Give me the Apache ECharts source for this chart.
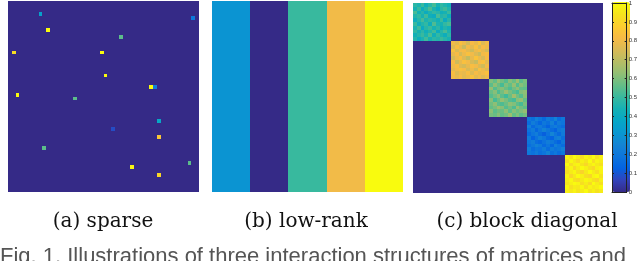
<!DOCTYPE html>
<html>
<head>
<meta charset="utf-8">
<script src="https://cdn.jsdelivr.net/npm/echarts@6/dist/echarts.min.js"></script>
<style>html,body{margin:0;padding:0;background:#fff;}#c{width:640px;height:261px;}</style>
</head>
<body>
<div id="c"></div>
<script>
// ---------- data ----------
var N = 50;
// sparse matrix: [row, col, value]
var sparseEntries = [
  [3, 8, 0.35], [4, 48, 0.2], [7, 10, 1.0], [9, 29, 0.55], [13, 1, 0.92],
  [13, 24, 1.0], [19, 25, 1.0], [24, 2, 1.0], [25, 17, 0.55], [22, 37, 1.0],
  [22, 38, 0.22], [31, 39, 0.38], [33, 27, 0.08], [35, 39, 0.85], [38, 9, 0.55],
  [42, 47, 0.55], [43, 32, 0.98], [45, 39, 0.9]
];
// low-rank: value of each 10-column stripe
var lowRankStripes = [0.3, 0.0, 0.5, 0.8, 1.0];
var stripeWidth = 10;
// block diagonal: five 10x10 blocks
var block1 = [
  [.48,.45,.50,.42,.47,.52,.44,.49,.46,.43],
  [.44,.50,.41,.47,.53,.45,.40,.48,.51,.46],
  [.52,.43,.47,.40,.45,.49,.47,.42,.44,.50],
  [.46,.49,.44,.51,.42,.40,.52,.46,.48,.41],
  [.41,.47,.52,.45,.48,.46,.43,.50,.40,.47],
  [.50,.42,.46,.49,.41,.53,.45,.44,.49,.52],
  [.45,.51,.40,.47,.50,.44,.48,.41,.46,.43],
  [.49,.44,.48,.42,.46,.51,.40,.47,.52,.45],
  [.43,.47,.50,.45,.52,.42,.49,.45,.41,.48],
  [.47,.41,.45,.51,.44,.48,.46,.50,.47,.44]
];
var block2 = [
  [.80,.77,.83,.79,.74,.81,.78,.84,.76,.80],
  [.76,.82,.78,.72,.80,.77,.83,.75,.81,.79],
  [.83,.75,.80,.81,.77,.73,.79,.82,.78,.74],
  [.78,.81,.74,.79,.83,.80,.76,.72,.80,.82],
  [.74,.79,.82,.76,.71,.78,.84,.79,.75,.81],
  [.81,.73,.78,.83,.80,.75,.72,.81,.83,.77],
  [.79,.82,.76,.74,.78,.82,.80,.76,.73,.80],
  [.77,.80,.83,.81,.75,.79,.74,.83,.79,.76],
  [.82,.76,.79,.78,.82,.76,.81,.78,.80,.83],
  [.80,.78,.81,.77,.79,.83,.77,.80,.76,.79]
];
var block3 = [
  [.60,.56,.63,.58,.54,.61,.57,.64,.55,.59],
  [.55,.62,.57,.52,.60,.56,.63,.54,.61,.58],
  [.63,.54,.59,.61,.57,.53,.58,.62,.56,.55],
  [.57,.61,.53,.58,.64,.59,.55,.52,.60,.62],
  [.54,.58,.62,.55,.51,.57,.65,.58,.54,.61],
  [.61,.52,.57,.63,.59,.54,.52,.61,.63,.56],
  [.58,.62,.55,.53,.57,.62,.60,.55,.52,.59],
  [.56,.59,.64,.61,.54,.58,.53,.63,.58,.55],
  [.62,.55,.58,.57,.62,.55,.61,.57,.60,.63],
  [.59,.57,.61,.56,.58,.64,.56,.60,.55,.58]
];
var block4 = [
  [.20,.17,.23,.19,.15,.21,.18,.24,.16,.20],
  [.16,.22,.18,.14,.20,.17,.23,.15,.21,.19],
  [.23,.15,.20,.21,.17,.13,.19,.22,.18,.16],
  [.18,.21,.14,.19,.24,.20,.16,.13,.20,.22],
  [.15,.19,.22,.16,.12,.18,.25,.19,.15,.21],
  [.21,.13,.18,.23,.20,.15,.13,.21,.23,.17],
  [.19,.22,.16,.14,.18,.22,.20,.16,.13,.20],
  [.17,.20,.24,.21,.15,.19,.14,.23,.19,.16],
  [.22,.16,.19,.18,.22,.16,.21,.18,.20,.23],
  [.20,.18,.21,.17,.19,.24,.17,.20,.16,.19]
];
var block5 = [
  [.97,.94,1.0,.96,.92,.98,.95,1.0,.93,.97],
  [.93,.99,.95,.91,.97,.94,1.0,.92,.98,.96],
  [1.0,.92,.97,.98,.94,.90,.96,.99,.95,.93],
  [.95,.98,.91,.96,1.0,.97,.93,.90,.97,.99],
  [.92,.96,.99,.93,.89,.95,1.0,.96,.92,.98],
  [.98,.90,.95,1.0,.97,.92,.90,.98,1.0,.94],
  [.96,.99,.93,.91,.95,.99,.97,.93,.90,.97],
  [.94,.97,1.0,.98,.92,.96,.91,1.0,.96,.93],
  [.99,.93,.96,.95,.99,.93,.98,.95,.97,1.0],
  [.97,.95,.98,.94,.96,1.0,.94,.97,.93,.96]
];
var blocks = [block1, block2, block3, block4, block5];
var colorbarTicks = ['0','0.1','0.2','0.3','0.4','0.5','0.6','0.7','0.8','0.9','1'];
var captions = ['(a) sparse', '(b) low-rank', '(c) block diagonal'];
var figCaption = 'Fig. 1. Illustrations of three interaction structures of matrices and';

// ---------- build ----------
var parula = ['#352A87','#3243BA','#0363E1','#0D75DC','#1485D4','#0998D1','#06A7C6','#15B1B4',
  '#38B99E','#65BE86','#92BF73','#B7BD64','#D9BA56','#F8BB44','#FCCE2E','#F5E41D','#F9FB0E'];

var idx = [];
for (var i = 0; i < N; i++) idx.push(i);

var sparseData = [];
var sparseMap = {};
sparseEntries.forEach(function (e) { sparseMap[e[0] + '_' + e[1]] = e[2]; });
for (var r = 0; r < N; r++) for (var c = 0; c < N; c++) {
  var v = sparseMap[r + '_' + c];
  sparseData.push([c, r, v === undefined ? 0 : v]);
}
var lowRankData = [];
for (var r = 0; r < N; r++) for (var c = 0; c < N; c++) {
  lowRankData.push([c, r, lowRankStripes[Math.floor(c / stripeWidth)]]);
}
var blockData = [];
for (var r = 0; r < N; r++) for (var c = 0; c < N; c++) {
  var br = Math.floor(r / 10), bc = Math.floor(c / 10);
  blockData.push([c, r, br === bc ? blocks[br][r % 10][c % 10] : 0]);
}

function renderCell(params, api) {
  var p = api.coord([api.value(0), api.value(1)]);
  var s = api.size([1, 1]);
  var x0 = Math.round(p[0] - s[0] / 2), x1 = Math.round(p[0] + s[0] / 2);
  var y0 = Math.round(p[1] - s[1] / 2), y1 = Math.round(p[1] + s[1] / 2);
  return {type: 'rect', shape: {x: x0, y: y0, width: x1 - x0, height: y1 - y0},
    style: {fill: api.visual('color')}};
}

var panels = [
  {left: 8, top: 1, width: 191, height: 191},
  {left: 212, top: 1, width: 191, height: 191},
  {left: 413, top: 3, width: 190, height: 190}
];
var grids = [], xAxes = [], yAxes = [], series = [];
var datas = [sparseData, lowRankData, blockData];
panels.forEach(function (p, k) {
  grids.push({left: p.left, top: p.top, width: p.width, height: p.height, show: false});
  xAxes.push({type: 'category', data: idx, gridIndex: k, show: false});
  yAxes.push({type: 'category', data: idx, gridIndex: k, show: false, inverse: true});
  series.push({type: 'custom', xAxisIndex: k, yAxisIndex: k, data: datas[k],
    renderItem: renderCell, encode: {x: 0, y: 1}, silent: true, progressive: 0});
});
// colorbar frame + ticks
grids.push({left: 612, top: 2, width: 18, height: 190, show: false});
xAxes.push({type: 'value', gridIndex: 3, min: 0, max: 1, position: 'bottom', z: 10,
  axisLine: {show: true, onZero: false, lineStyle: {color: '#222', width: 1}},
  axisTick: {show: false}, axisLabel: {show: false}, splitLine: {show: false}});
xAxes.push({type: 'value', gridIndex: 3, min: 0, max: 1, position: 'top', z: 10,
  axisLine: {show: true, onZero: false, lineStyle: {color: '#222', width: 1}},
  axisTick: {show: false}, axisLabel: {show: false}, splitLine: {show: false}});
yAxes.push({type: 'value', gridIndex: 3, min: 0, max: 1, interval: 0.1, position: 'right', z: 10,
  axisLine: {show: true, onZero: false, lineStyle: {color: '#222', width: 1}},
  axisTick: {show: true, inside: true, length: 2, lineStyle: {color: '#222'}},
  axisLabel: {show: true, fontSize: 6, color: '#333', margin: 2, fontFamily: 'Liberation Sans',
    formatter: function (v) { return colorbarTicks[Math.round(v * 10)]; }},
  splitLine: {show: false}});
yAxes.push({type: 'value', gridIndex: 3, min: 0, max: 1, interval: 0.1, position: 'left', z: 10,
  axisLine: {show: true, onZero: false, lineStyle: {color: '#222', width: 1}},
  axisTick: {show: true, inside: true, length: 2, lineStyle: {color: '#222'}},
  axisLabel: {show: false}, splitLine: {show: false}});

var capCenters = [103, 306, 527];
var graphics = captions.map(function (t, k) {
  return {type: 'text', x: capCenters[k], y: 212,
    style: {text: t, textAlign: 'center', textVerticalAlign: 'top',
      font: '20px "DejaVu Serif"', fill: '#111'}};
});
graphics.push({type: 'text', x: 0, y: 246,
  style: {text: figCaption, textAlign: 'left', textVerticalAlign: 'top',
    font: '22px "Liberation Sans"', fill: '#555'}});

var chart = echarts.init(document.getElementById('c'), null, {renderer: 'canvas'});
chart.setOption({
  animation: false,
  backgroundColor: '#fff',
  grid: grids, xAxis: xAxes, yAxis: yAxes, series: series,
  visualMap: {type: 'continuous', min: 0, max: 1, dimension: 2, seriesIndex: [0, 1, 2],
    left: 612, top: 2, itemWidth: 18, itemHeight: 190, padding: 0,
    calculable: false, hoverLink: false, text: null, show: true,
    inRange: {color: parula}},
  graphic: graphics
});
</script>
</body>
</html>
